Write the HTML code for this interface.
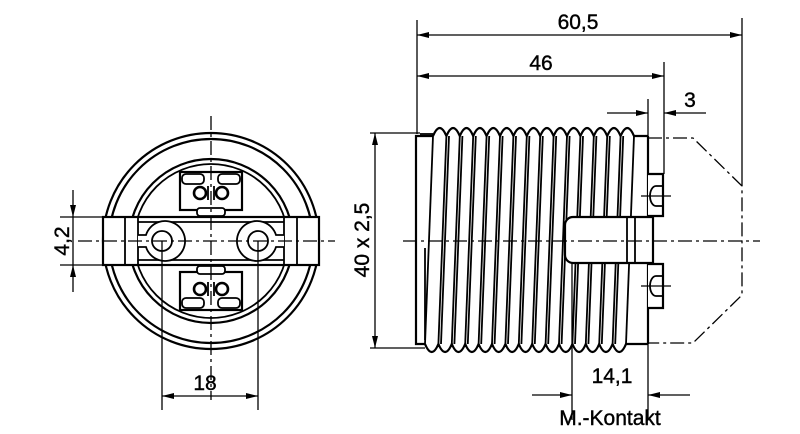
<!DOCTYPE html>
<html><head><meta charset="utf-8"><style>
html,body{margin:0;padding:0;background:#fff}
svg{display:block}
text{font-family:"Liberation Sans",sans-serif;font-size:21px;fill:#000;stroke:#000;stroke-width:0.4}
</style></head><body>
<svg width="800" height="434" viewBox="0 0 800 434" xmlns="http://www.w3.org/2000/svg">
<defs>
<marker id="a" viewBox="0 0 12 6" refX="12" refY="3" markerWidth="12" markerHeight="6" orient="auto-start-reverse" markerUnits="userSpaceOnUse"><path d="M0,0L12,3L0,6z" fill="#000"/></marker>
</defs>
<g fill="none" stroke="#000" stroke-width="1.8">
<circle cx="211" cy="241" r="108" stroke-width="2.2"/>
<circle cx="211" cy="241" r="102" stroke-width="2.2"/>
<circle cx="211" cy="241" r="82" stroke-width="2.2"/>
<circle cx="211" cy="241" r="77" stroke-width="1.8"/>
<rect x="103" y="217" width="216" height="48" fill="#fff" stroke-width="2.2"/>
<line x1="125" y1="217" x2="125" y2="265"/><line x1="138" y1="217" x2="138" y2="265"/>
<line x1="297" y1="217" x2="297" y2="265"/><line x1="284" y1="217" x2="284" y2="265"/>
<line x1="138" y1="222" x2="284" y2="222"/><line x1="138" y1="260" x2="284" y2="260"/>
<path d="M138,235h8a20,20 0 1 1 0,12h-8" fill="#fff"/>
<path d="M284,235h-8a20,20 0 1 0 0,12h8" fill="#fff"/>
<circle cx="162" cy="241" r="10"/><circle cx="258" cy="241" r="10"/>
<rect x="180" y="172" width="62" height="38" fill="#fff" stroke-width="2.2"/>
<rect x="182" y="174" width="22" height="10" rx="4"/><rect x="218" y="174" width="22" height="10" rx="4"/>
<circle cx="200" cy="193" r="6" stroke-width="2.6"/><circle cx="222" cy="193" r="6" stroke-width="2.6"/>
<line x1="208" y1="186" x2="208" y2="200"/><line x1="214" y1="186" x2="214" y2="200"/>
<rect x="197" y="208" width="28" height="8" rx="3" fill="#fff"/>
<rect x="180" y="272" width="62" height="38" fill="#fff" stroke-width="2.2"/>
<rect x="182" y="298" width="22" height="10" rx="4"/><rect x="218" y="298" width="22" height="10" rx="4"/>
<circle cx="200" cy="289" r="6" stroke-width="2.6"/><circle cx="222" cy="289" r="6" stroke-width="2.6"/>
<line x1="208" y1="282" x2="208" y2="296"/><line x1="214" y1="282" x2="214" y2="296"/>
<rect x="197" y="266" width="28" height="8" rx="3" fill="#fff"/>
<line x1="78" y1="241" x2="335" y2="241" stroke-width="1.3" stroke-dasharray="14,4,3,4"/>
<line x1="211" y1="116" x2="211" y2="400" stroke-width="1.3" stroke-dasharray="14,4,3,4"/>
<line x1="162" y1="241" x2="162" y2="410" stroke-width="1.3"/>
<line x1="258" y1="241" x2="258" y2="410" stroke-width="1.3"/>
<line x1="162" y1="396" x2="258" y2="396" stroke-width="1.3" marker-start="url(#a)" marker-end="url(#a)"/>
<line x1="60" y1="217" x2="103" y2="217" stroke-width="1.3"/>
<line x1="60" y1="265" x2="103" y2="265" stroke-width="1.3"/>
<line x1="73" y1="190" x2="73" y2="217" stroke-width="1.3" marker-end="url(#a)"/>
<line x1="73" y1="292" x2="73" y2="265" stroke-width="1.3" marker-end="url(#a)"/>
<line x1="73" y1="217" x2="73" y2="265" stroke-width="1.3"/>

<rect x="416" y="134" width="232" height="212" fill="#fff" stroke="none"/>
<path d="M433,136 H416 V344 H425" stroke-width="2.2"/>
<line x1="420" y1="134" x2="433" y2="134"/>
<line x1="425" y1="248" x2="425" y2="340"/>
<path d="M433,136 q3.35,-8 6.7,-8 q3.35,0 6.7,8 q3.35,-8 6.7,-8 q3.35,0 6.7,8 q3.35,-8 6.7,-8 q3.35,0 6.7,8 q3.35,-8 6.7,-8 q3.35,0 6.7,8 q3.35,-8 6.7,-8 q3.35,0 6.7,8 q3.35,-8 6.7,-8 q3.35,0 6.7,8 q3.35,-8 6.7,-8 q3.35,0 6.7,8 q3.35,-8 6.7,-8 q3.35,0 6.7,8 q3.35,-8 6.7,-8 q3.35,0 6.7,8 q3.35,-8 6.7,-8 q3.35,0 6.7,8 q3.35,-8 6.7,-8 q3.35,0 6.7,8 q3.35,-8 6.7,-8 q3.35,0 6.7,8 q3.35,-8 6.7,-8 q3.35,0 6.7,8 q3.35,-8 6.7,-8 q3.35,0 6.7,8 q3.35,-8 6.7,-8 q3.35,0 6.7,8 H648" stroke-width="2.2"/>
<path d="M425,344 q3.35,8 6.7,8 q3.35,0 6.7,-8 q3.35,8 6.7,8 q3.35,0 6.7,-8 q3.35,8 6.7,8 q3.35,0 6.7,-8 q3.35,8 6.7,8 q3.35,0 6.7,-8 q3.35,8 6.7,8 q3.35,0 6.7,-8 q3.35,8 6.7,8 q3.35,0 6.7,-8 q3.35,8 6.7,8 q3.35,0 6.7,-8 q3.35,8 6.7,8 q3.35,0 6.7,-8 q3.35,8 6.7,8 q3.35,0 6.7,-8 q3.35,8 6.7,8 q3.35,0 6.7,-8 q3.35,8 6.7,8 q3.35,0 6.7,-8 q3.35,8 6.7,8 q3.35,0 6.7,-8 q3.35,8 6.7,8 q3.35,0 6.7,-8 q3.35,8 6.7,8 q3.35,0 6.7,-8 q3.35,8 6.7,8 q3.35,0 6.7,-8 H648" stroke-width="2.2"/>
<g stroke-width="1.8">
<line x1="433" y1="136" x2="425" y2="344"/>
<line x1="446.4" y1="136" x2="438.4" y2="344"/><line x1="449" y1="136" x2="441" y2="344"/>
<line x1="459.8" y1="136" x2="451.8" y2="344"/><line x1="462.4" y1="136" x2="454.4" y2="344"/>
<line x1="473.2" y1="136" x2="465.2" y2="344"/><line x1="475.8" y1="136" x2="467.8" y2="344"/>
<line x1="486.6" y1="136" x2="478.6" y2="344"/><line x1="489.2" y1="136" x2="481.2" y2="344"/>
<line x1="500" y1="136" x2="492" y2="344"/><line x1="502.6" y1="136" x2="494.6" y2="344"/>
<line x1="513.4" y1="136" x2="505.4" y2="344"/><line x1="516" y1="136" x2="508" y2="344"/>
<line x1="526.8" y1="136" x2="518.8" y2="344"/><line x1="529.4" y1="136" x2="521.4" y2="344"/>
<line x1="540.2" y1="136" x2="532.2" y2="344"/><line x1="542.8" y1="136" x2="534.8" y2="344"/>
<line x1="553.6" y1="136" x2="545.6" y2="344"/><line x1="556.2" y1="136" x2="548.2" y2="344"/>
<line x1="567" y1="136" x2="559" y2="344"/><line x1="569.6" y1="136" x2="561.6" y2="344"/>
<line x1="580.4" y1="136" x2="572.4" y2="344"/><line x1="583" y1="136" x2="575" y2="344"/>
<line x1="593.8" y1="136" x2="585.8" y2="344"/><line x1="596.4" y1="136" x2="588.4" y2="344"/>
<line x1="607.2" y1="136" x2="599.2" y2="344"/><line x1="609.8" y1="136" x2="601.8" y2="344"/>
<line x1="620.6" y1="136" x2="612.6" y2="344"/><line x1="623.2" y1="136" x2="615.2" y2="344"/>
<line x1="634" y1="136" x2="626" y2="344"/>
</g>
<line x1="648" y1="136" x2="648" y2="344" stroke-width="2.2"/>
<path d="M653,217 H573 a8,8 0 0 0 -8,8 V255 a8,8 0 0 0 8,8 H653" fill="#fff" stroke-width="2.2"/>
<line x1="627" y1="217" x2="627" y2="263"/><line x1="635" y1="217" x2="635" y2="263"/>
<line x1="653" y1="217" x2="653" y2="263" stroke-width="2.2"/>
<path d="M648,174 H663 V216 H648" fill="#fff" stroke-width="2.2"/>
<path d="M662,186 h-6 a6,10 0 0 0 0,20 h6"/>
<line x1="641" y1="196" x2="671" y2="196" stroke-width="1.3"/>
<path d="M648,264 H663 V308 H648" fill="#fff" stroke-width="2.2"/>
<path d="M662,276 h-6 a6,10 0 0 0 0,20 h6"/>
<line x1="641" y1="286" x2="671" y2="286" stroke-width="1.3"/>
<path d="M648,138 H693 L742,186 V295 L693,343 H648" stroke-width="1.3" stroke-dasharray="14,4,3,4"/>
<line x1="403" y1="241" x2="760" y2="241" stroke-width="1.3" stroke-dasharray="14,4,3,4"/>
<g stroke-width="1.3">
<line x1="417" y1="20" x2="417" y2="134"/>
<line x1="742" y1="18" x2="742" y2="186"/>
<line x1="417" y1="35" x2="742" y2="35" marker-start="url(#a)" marker-end="url(#a)"/>
<line x1="664" y1="62" x2="664" y2="174"/>
<line x1="417" y1="76" x2="664" y2="76" marker-start="url(#a)" marker-end="url(#a)"/>
<line x1="648" y1="99" x2="648" y2="136"/>
<line x1="607" y1="113" x2="648" y2="113" marker-end="url(#a)"/>
<line x1="706" y1="113" x2="664" y2="113" marker-end="url(#a)"/>
<line x1="370" y1="133" x2="420" y2="133"/>
<line x1="370" y1="348" x2="425" y2="348"/>
<line x1="375" y1="133" x2="375" y2="348" marker-start="url(#a)" marker-end="url(#a)"/>
<line x1="572" y1="263" x2="572" y2="420"/>
<line x1="648" y1="344" x2="648" y2="420"/>
<line x1="532" y1="395" x2="572" y2="395" marker-end="url(#a)"/>
<line x1="690" y1="395" x2="648" y2="395" marker-end="url(#a)"/>
</g>
</g>
<text x="205" y="390" text-anchor="middle">18</text>
<text transform="translate(69,241) rotate(-90)" text-anchor="middle">4,2</text>
<text transform="translate(369,240) rotate(-90)" text-anchor="middle">40 x 2,5</text>
<text x="578" y="29" text-anchor="middle">60,5</text>
<text x="541" y="70" text-anchor="middle">46</text>
<text x="690" y="107" text-anchor="middle">3</text>
<text x="612" y="383" text-anchor="middle">14,1</text>
<text x="610" y="425" text-anchor="middle">M.-Kontakt</text>
</svg>
</body></html>
